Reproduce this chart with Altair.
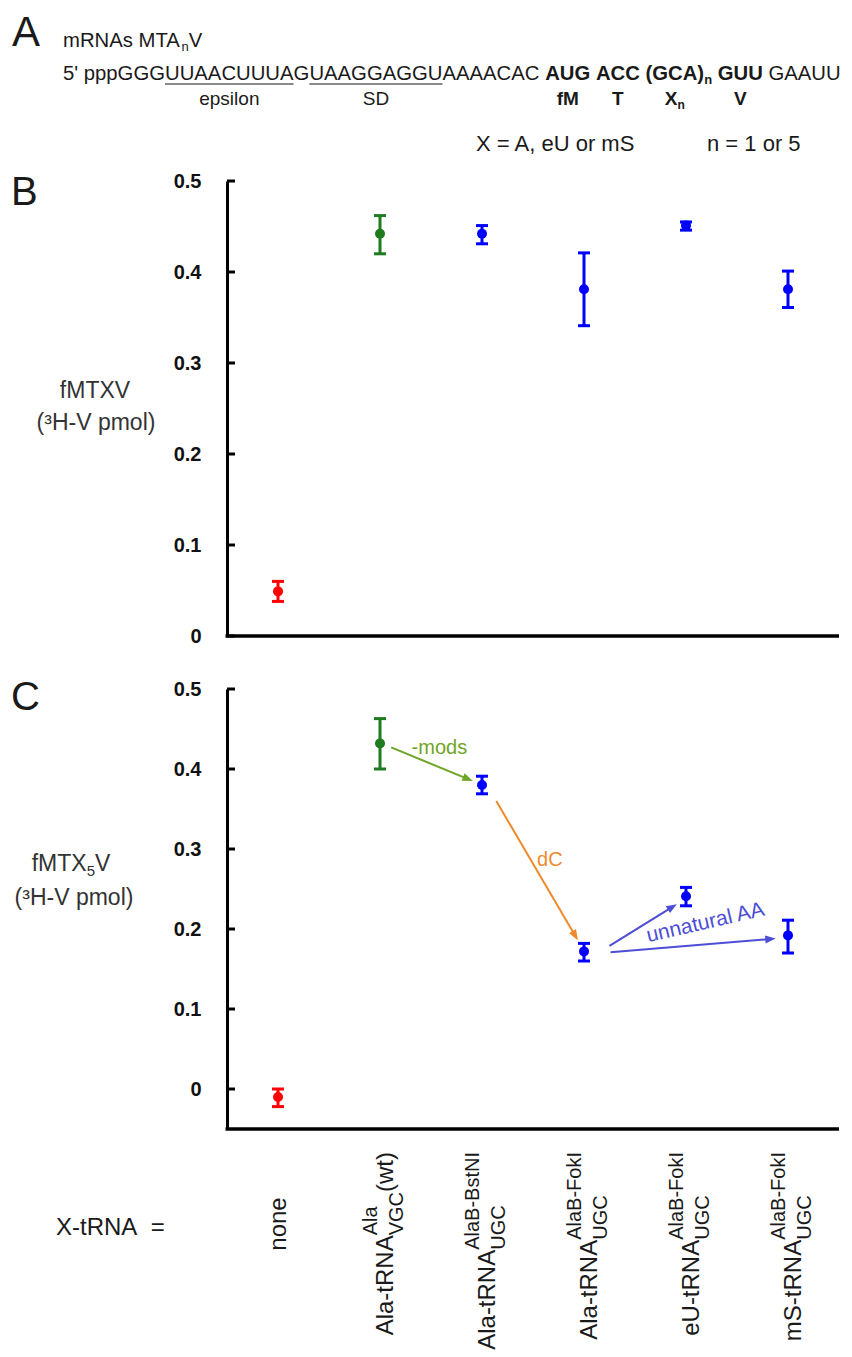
import math
import altair as alt
import pandas as pd

FONT = "Liberation Sans"
INK = "#1a1a1a"
TITLE_INK = "#333333"

# ---------------- data ----------------
categories = ["none", "Ala-tRNA(wt)", "Ala-tRNA BstNI", "Ala-tRNA FokI", "eU-tRNA FokI", "mS-tRNA FokI"]
point_colors = ["#ff0000", "#1e7b1e", "#0000ff", "#0000ff", "#0000ff", "#0000ff"]
b_mean = [0.049, 0.442, 0.442, 0.381, 0.451, 0.381]
b_low = [0.038, 0.420, 0.431, 0.341, 0.446, 0.361]
b_high = [0.060, 0.462, 0.451, 0.421, 0.455, 0.401]
c_mean = [-0.010, 0.432, 0.380, 0.172, 0.241, 0.192]
c_low = [-0.022, 0.400, 0.369, 0.160, 0.229, 0.170]
c_high = [0.000, 0.463, 0.391, 0.182, 0.252, 0.211]
y_ticks = [0, 0.1, 0.2, 0.3, 0.4, 0.5]

label_main = ["Ala-tRNA", "Ala-tRNA", "Ala-tRNA", "eU-tRNA", "mS-tRNA"]
label_sup = ["Ala", "AlaB-BstNI", "AlaB-FokI", "AlaB-FokI", "AlaB-FokI"]
label_sub = ["VGC", "UGC", "UGC", "UGC", "UGC"]
label_tail = ["(wt)", "", "", "", ""]

arrow_x0 = [1.61, 2.64, 3.75, 3.76]
arrow_y0 = [0.427, 0.360, 0.179, 0.171]
arrow_x1 = [2.41, 3.44, 4.41, 5.38]
arrow_y1 = [0.385, 0.186, 0.231, 0.188]
arrow_colors = ["#6fa526", "#ee8a2c", "#4d4dd6", "#4d4dd6"]

note_text = ["-mods", "dC", "unnatural AA"]
note_x = [1.81, 3.04, 4.69]
note_y = [0.419, 0.279, 0.2075]
note_colors = ["#6fa526", "#ee8a2c", "#4d4dd6"]

# ---------------- geometry ----------------
W, H = 612, 948
X0, Y0 = 228, 183          # page position of the plot origin (used for text placement)
B_DOMAIN, B_RANGE = [0, 0.5], [455, 0]
C_DOMAIN, C_RANGE = [-0.05, 0.5], [948, 508]
KX = W / 6.0
KY_C = (C_RANGE[0] - C_RANGE[1]) / (C_DOMAIN[1] - C_DOMAIN[0])

REG = {' ': 278, "'": 191, '(': 333, ')': 333, ',': 278, '-': 333, '.': 278, '=': 584, '³': 333,
       'A': 667, 'B': 667, 'C': 722, 'D': 722, 'E': 667, 'F': 611, 'G': 778, 'H': 722, 'I': 278,
       'K': 667, 'L': 556, 'M': 833, 'N': 722, 'O': 778, 'P': 667, 'R': 722, 'S': 667, 'T': 611,
       'U': 722, 'V': 667, 'X': 667, 'a': 556, 'b': 556, 'c': 500, 'd': 556, 'e': 556, 'f': 278,
       'g': 556, 'h': 556, 'i': 222, 'k': 500, 'l': 222, 'm': 833, 'n': 556, 'o': 556, 'p': 556,
       'r': 333, 's': 500, 't': 278, 'u': 556, 'w': 722}
for d in "0123456789":
    REG[d] = 556
BOLD = {' ': 278, '(': 333, ')': 333, 'A': 722, 'C': 722, 'G': 778, 'U': 722, 'T': 611, 'V': 667,
        'X': 667, 'M': 833, 'f': 333, 'n': 611}


def tw(s, size, bold=False):
    t = BOLD if bold else REG
    return sum(t.get(ch, 556) for ch in s) * size / 1000.0


rows_reg, rows_bold, ulines = [], [], []


def put(text, sx, sy, size, bold=False, color=INK):
    (rows_bold if bold else rows_reg).append(
        {"t": text, "px": sx - X0, "py": sy - Y0, "size": size, "color": color})
    return sx + tw(text, size, bold)


def put_center(text, cx, sy, size, bold=False, color=INK):
    put(text, cx - tw(text, size, bold) / 2, sy, size, bold, color)


# panel letters
put("A", 13, 48, 42)
put("B", 12, 207, 40)
put("C", 12, 712, 40)

# header line 1
S = 20.3
x = put("mRNAs MTA", 64, 49, S)
x = put("n", x, 53, 13)
put("V", x, 49, S)

# header line 2
base = 82
x = put("5' pppGGG", 64, base, S)
u1a = x; x = put("UUAACUUUA", x, base, S); u1b = x
x = put("G", x, base, S)
u2a = x; x = put("UAAGGAGGU", x, base, S); u2b = x
x = put("AAAACAC", x, base, S) + tw(" ", S)
a0 = x; x = put("AUG", x, base, S, True); a1 = x
x += tw(" ", S, True)
t0 = x; x = put("ACC", x, base, S, True); t1 = x
x += tw(" ", S, True)
g0 = x; x = put("(GCA)", x, base, S, True); g1 = x
x = put("n", x, base + 4, 13, True)
x += tw(" ", S, True)
v0 = x; x = put("GUU", x, base, S, True); v1 = x
x += tw(" ", S)
put("GAAUU", x, base, S)
for ua, ub in [(u1a, u1b), (u2a, u2b)]:
    ulines.append({"px": ua - X0, "px2": ub - X0, "py": base + 4 - Y0})

# header line 3
b3 = 107
put_center("epsilon", (u1a + u1b) / 2, b3, 19)
put_center("SD", (u2a + u2b) / 2, b3, 19)
put_center("fM", (a0 + a1) / 2, b3, 19, True)
put_center("T", (t0 + t1) / 2, b3, 19, True)
wx = tw("X", 19, True) + tw("n", 12, True)
xx = put("X", (g0 + g1) / 2 - wx / 2, b3, 19, True)
put("n", xx, b3 + 4, 12, True)
put_center("V", (v0 + v1) / 2, b3, 19, True)

# header line 4
put("X = A, eU or mS", 477, 153, 22)
put("n = 1 or 5", 708, 153, 22)

# y titles
put_center("fMTXV", 96, 400, 23, color=TITLE_INK)
put_center("(³H-V pmol)", 97, 432, 23, color=TITLE_INK)
wt5 = tw("fMTX", 23) + tw("5", 15) + tw("V", 23)
xx = put("fMTX", 72 - wt5 / 2, 873, 23, color=TITLE_INK)
xx = put("5", xx, 878, 15, color=TITLE_INK)
put("V", xx, 873, 23, color=TITLE_INK)
put_center("(³H-V pmol)", 75, 907, 23, color=TITLE_INK)

# x row title
xx = put("X-tRNA", 57, 1237, 24)
put("=", xx + tw("  ", 24), 1237, 24)

# rotated category labels
TOP = 1154
rot_main, rot_sup, rot_sub = [], [], []
for i in range(5):
    pos = i + 1.5
    wm = tw(label_main[i], 24)
    ws = tw(label_sup[i], 20)
    wb = tw(label_sub[i], 20)
    wtail = tw(label_tail[i], 24)
    L = wm + max(ws, wb) + wtail
    start = TOP + L
    rot_main.append({"pos": pos, "py": start - Y0, "t": label_main[i]})
    rot_sup.append({"pos": pos, "py": start - wm - Y0, "t": label_sup[i]})
    rot_sub.append({"pos": pos, "py": start - wm - Y0, "t": label_sub[i]})
    if label_tail[i]:
        rot_main.append({"pos": pos, "py": start - wm - max(ws, wb) - Y0, "t": label_tail[i]})
rot_none = [{"pos": 0.5, "py": 1226 - Y0, "t": categories[0]}]

# ---------------- scales / axes ----------------
xscale = alt.Scale(domain=[0, 6], nice=False, zero=False)
ysB = alt.Scale(domain=B_DOMAIN, range=B_RANGE, nice=False, zero=False)
ysC = alt.Scale(domain=C_DOMAIN, range=C_RANGE, nice=False, zero=False)


def yaxis():
    return alt.Axis(orient="left", values=y_ticks, format=".1~f", ticks=False, grid=False,
                    domain=True, domainColor="black", domainWidth=3, labelFont=FONT,
                    labelFontSize=20, labelFontWeight="bold", labelColor="#111111",
                    labelPadding=26, title=None)


pos = [i + 0.5 for i in range(6)]


def panel(means, lows, highs, ysc):
    df = pd.DataFrame({"pos": pos, "m": means, "lo": lows, "hi": highs, "color": point_colors})
    caps = pd.DataFrame({"pos": pos + pos, "v": lows + highs, "color": point_colors + point_colors})
    ticks = pd.DataFrame({"v": y_ticks})
    X = alt.X("pos:Q", scale=xscale, axis=None)
    col = alt.Color("color:N", scale=None)
    bars = alt.Chart(df).mark_rule(strokeWidth=3).encode(
        x=X, y=alt.Y("lo:Q", scale=ysc, axis=yaxis()), y2="hi:Q", color=col)
    capm = alt.Chart(caps).mark_tick(orient="horizontal", size=12, thickness=3, opacity=1).encode(
        x=X, y=alt.Y("v:Q", scale=ysc, axis=yaxis()), color=col)
    pts = alt.Chart(df).mark_circle(size=100, opacity=1).encode(
        x=X, y=alt.Y("m:Q", scale=ysc, axis=yaxis()), color=col)
    tk = alt.Chart(ticks).mark_rule(strokeWidth=3, color="black").encode(
        x=alt.value(0), x2=alt.value(8), y=alt.Y("v:Q", scale=ysc, axis=yaxis()))
    return [bars, capm, pts, tk]


layerB = alt.layer(*panel(b_mean, b_low, b_high, ysB))

# arrows for panel C
ARROW = "M0,0L-0.8,2.1L0.8,2.1Z"
arows = []
for i in range(len(arrow_x0)):
    dxp = (arrow_x1[i] - arrow_x0[i]) * KX
    dyp = -(arrow_y1[i] - arrow_y0[i]) * KY_C
    Lp = math.hypot(dxp, dyp)
    ux, uy = dxp / Lp, dyp / Lp
    ang = math.degrees(math.atan2(dxp, -dyp)) % 360
    arows.append({"x0": arrow_x0[i], "y0": arrow_y0[i],
                  "x1s": arrow_x1[i] - 7 * ux / KX, "y1s": arrow_y1[i] + 7 * uy / KY_C,
                  "xt": arrow_x1[i], "yt": arrow_y1[i], "ang": ang, "color": arrow_colors[i]})
adf = pd.DataFrame(arows)
a_lines = alt.Chart(adf).mark_rule(strokeWidth=2).encode(
    x=alt.X("x0:Q", scale=xscale, axis=None), y=alt.Y("y0:Q", scale=ysC, axis=yaxis()),
    x2="x1s:Q", y2="y1s:Q", color=alt.Color("color:N", scale=None))
a_heads = alt.Chart(adf).mark_point(shape=ARROW, filled=True, size=100, opacity=1, strokeWidth=0).encode(
    x=alt.X("xt:Q", scale=xscale, axis=None), y=alt.Y("yt:Q", scale=ysC, axis=yaxis()),
    angle=alt.Angle("ang:Q", scale=None), color=alt.Color("color:N", scale=None))
ndf = pd.DataFrame({"x": note_x, "y": note_y, "t": note_text, "color": note_colors})
notes_flat = alt.Chart(ndf.iloc[:2]).mark_text(font=FONT, fontSize=20, align="left", baseline="alphabetic").encode(
    x=alt.X("x:Q", scale=xscale, axis=None), y=alt.Y("y:Q", scale=ysC, axis=yaxis()),
    text="t:N", color=alt.Color("color:N", scale=None))
notes_rot = alt.Chart(ndf.iloc[2:]).mark_text(font=FONT, fontSize=21, align="center", baseline="middle", angle=347).encode(
    x=alt.X("x:Q", scale=xscale, axis=None), y=alt.Y("y:Q", scale=ysC, axis=yaxis()),
    text="t:N", color=alt.Color("color:N", scale=None))

layerC = alt.layer(*panel(c_mean, c_low, c_high, ysC), a_lines, a_heads, notes_flat, notes_rot)

# x axis lines
axis_lines = alt.Chart(pd.DataFrame({"py": [B_RANGE[0], C_RANGE[0]]})).mark_rule(
    strokeWidth=3.5, color="black").encode(
    x=alt.value(-1.5), x2=alt.value(W), y=alt.Y("py:Q", scale=None))

# free text
def txt(rows, bold):
    return alt.Chart(pd.DataFrame(rows)).mark_text(
        font=FONT, fontWeight="bold" if bold else "normal", align="left", baseline="alphabetic").encode(
        x=alt.X("px:Q", scale=None), y=alt.Y("py:Q", scale=None), text="t:N",
        size=alt.Size("size:Q", scale=None), color=alt.Color("color:N", scale=None))


t_reg = txt(rows_reg, False)
t_bold = txt(rows_bold, True)
u_rules = alt.Chart(pd.DataFrame(ulines)).mark_rule(strokeWidth=2, color="#8a8a8a").encode(
    x=alt.X("px:Q", scale=None), x2="px2:Q", y=alt.Y("py:Q", scale=None))


def rot_layer(rows, size, dy, align="left"):
    return alt.Chart(pd.DataFrame(rows)).mark_text(
        font=FONT, fontSize=size, angle=270, align=align, baseline="alphabetic", dy=dy, color=INK).encode(
        x=alt.X("pos:Q", scale=xscale, axis=None), y=alt.Y("py:Q", scale=None), text="t:N")


r_main = rot_layer(rot_main, 24, 13)
r_sup = rot_layer(rot_sup, 20, -3)
r_sub = rot_layer(rot_sub, 20, 23)
r_none = rot_layer(rot_none, 24, 8, align="center")

chart = alt.layer(
    layerB, layerC, axis_lines, u_rules, t_reg, t_bold, r_main, r_sup, r_sub, r_none
).resolve_scale(y="independent").properties(
    width=W, height=H, background="white",
    padding={"left": 3, "top": 4, "right": 0, "bottom": 0}
).configure_view(stroke=None)

chart.save("out.html", embed_options={"renderer": "svg", "actions": False})
